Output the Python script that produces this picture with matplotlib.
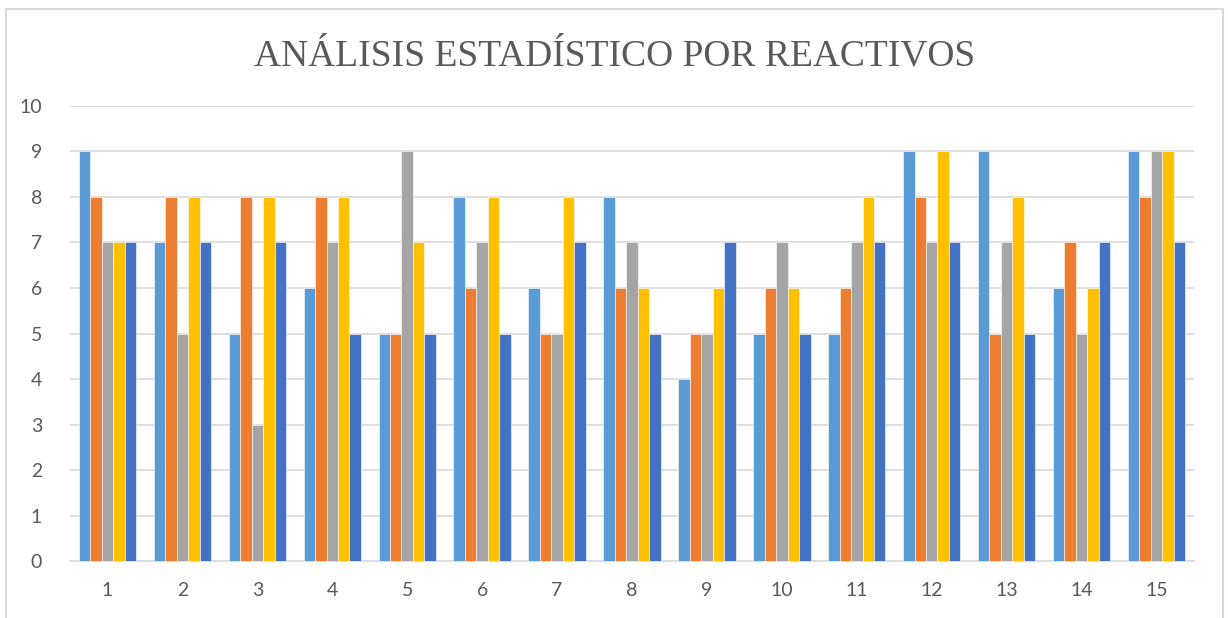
import numpy as np
import matplotlib.pyplot as plt
from matplotlib.patches import Rectangle

reactivos = [str(i) for i in range(1, 16)]
serie1 = [9, 7, 5, 6, 5, 8, 6, 8, 4, 5, 5, 9, 9, 6, 9]
serie2 = [8, 8, 8, 8, 5, 6, 5, 6, 5, 6, 6, 8, 5, 7, 8]
serie3 = [7, 5, 3, 7, 9, 7, 5, 7, 5, 7, 7, 7, 7, 5, 9]
serie4 = [7, 8, 8, 8, 7, 8, 8, 6, 6, 6, 8, 9, 8, 6, 9]
serie5 = [7, 7, 7, 5, 5, 5, 7, 5, 7, 5, 7, 7, 5, 7, 7]
series = [serie1, serie2, serie3, serie4, serie5]
colores = ['#5B9BD5', '#ED7D31', '#A5A5A5', '#FFC000', '#4472C4']

fig = plt.figure(figsize=(12.28, 6.18), dpi=100)
ax = fig.add_axes([0.057, 0.0922, 0.9153, 0.7363])

# marco del grafico
fig.patches.append(Rectangle((6 / 1228, -0.05), 1217 / 1228, 1.05 - 9 / 618,
                             transform=fig.transFigure, fill=False,
                             edgecolor='#D9D9D9', linewidth=1.5))

x = np.arange(len(reactivos))
w = 0.153
for i, (vals, c) in enumerate(zip(series, colores)):
    ax.bar(x + (i - 2) * w, vals, width=w, color=c, edgecolor='white',
           linewidth=0.4, zorder=3)

ax.set_xlim(-0.5, len(reactivos) - 0.5)
ax.set_ylim(0, 10)
ax.set_yticks(range(0, 11))
ax.set_xticks(x)
ax.set_xticklabels(reactivos)
ax.grid(axis='y', color='#D9D9D9', linewidth=1.2, zorder=0)
for s in ['top', 'right', 'left']:
    ax.spines[s].set_visible(False)
ax.spines['bottom'].set_color('#D9D9D9')
ax.spines['bottom'].set_linewidth(1.2)
ax.tick_params(length=0, colors='#595959', labelsize=14)
ax.tick_params(axis='x', pad=15)
ax.tick_params(axis='y', pad=20)
for lab in ax.get_xticklabels() + ax.get_yticklabels():
    lab.set_family(['Lato', 'DejaVu Sans'])

fig.text(0.5008, 0.909, 'ANÁLISIS ESTADÍSTICO POR REACTIVOS', ha='center',
         va='center', fontsize=27, color='#595959',
         family=['Liberation Serif', 'DejaVu Serif'])

fig.savefig('out.png', dpi=100)
